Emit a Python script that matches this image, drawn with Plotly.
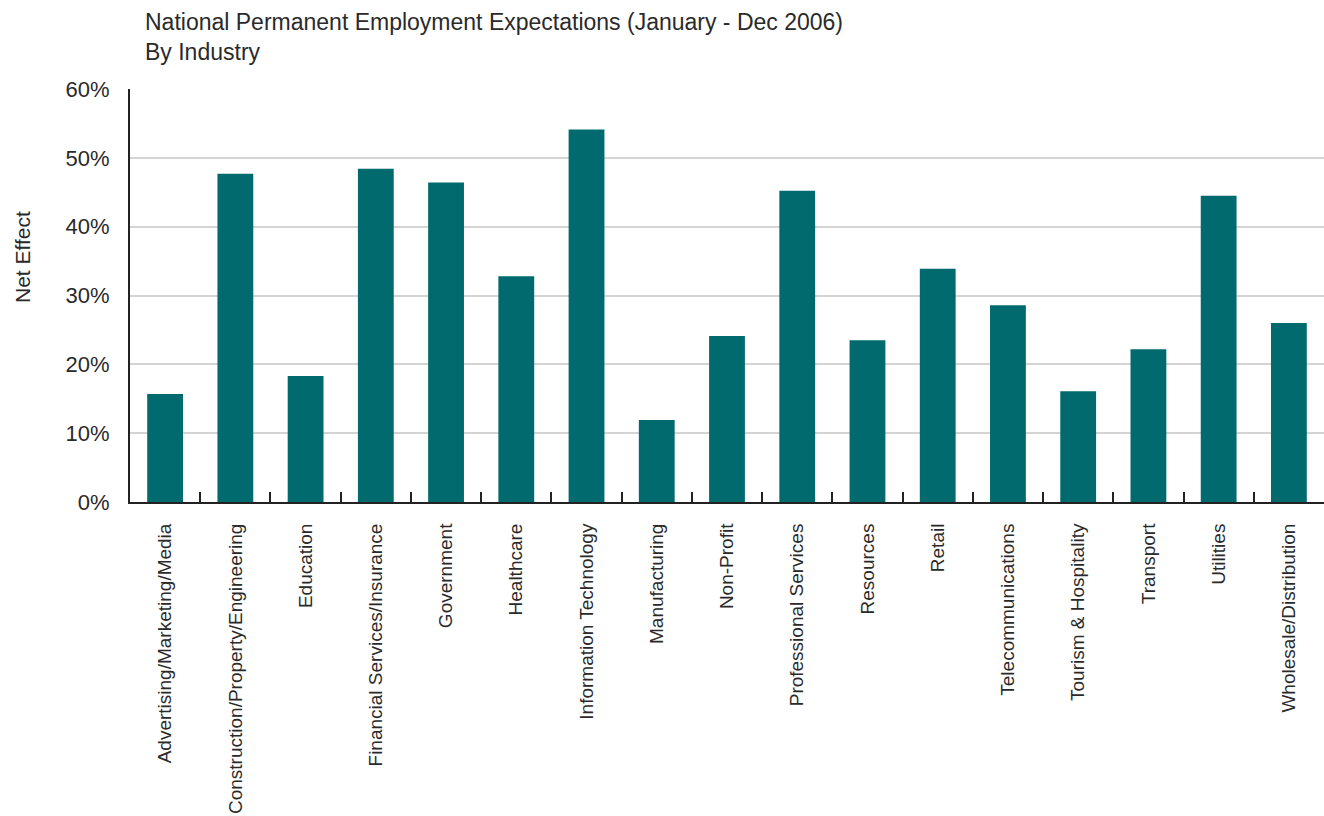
import plotly.graph_objects as go

industries = [
    "Advertising/Marketing/Media",
    "Construction/Property/Engineering",
    "Education",
    "Financial Services/Insurance",
    "Government",
    "Healthcare",
    "Information Technology",
    "Manufacturing",
    "Non-Profit",
    "Professional Services",
    "Resources",
    "Retail",
    "Telecommunications",
    "Tourism & Hospitality",
    "Transport",
    "Utilities",
    "Wholesale/Distribution",
]
net_effect = [15.7, 47.7, 18.3, 48.4, 46.4, 32.8, 54.1, 11.9, 24.1,
              45.2, 23.5, 33.9, 28.6, 16.1, 22.2, 44.5, 26.0]
y_ticks = [0, 10, 20, 30, 40, 50, 60]
y_tick_text = ["0%", "10%", "20%", "30%", "40%", "50%", "60%"]
title_lines = ["National Permanent Employment Expectations (January - Dec 2006)",
               "By Industry"]

FONT = "Liberation Sans, Arial, sans-serif"
TEXT = "#2a2a2a"
TEAL = "#016a6e"

# plot area in pixels: left 130, top 89, bottom 502, right edge of page
PLOT_W = 1324 - 130
PLOT_H = 502 - 89

fig = go.Figure(
    go.Bar(
        x=industries,
        y=net_effect,
        marker=dict(color=TEAL, line=dict(width=0)),
        hovertemplate="%{x}: %{y}%<extra></extra>",
    )
)

annotations = []
for i, line in enumerate(title_lines):
    annotations.append(dict(
        text=line,
        xref="paper", x=(143 - 130) / PLOT_W, xanchor="left",
        yref="paper", y=1 + (89 - (22 + 30 * i)) / PLOT_H, yanchor="middle",
        showarrow=False,
        font=dict(family=FONT, size=23, color=TEXT),
    ))
annotations.append(dict(
    text="Net Effect",
    textangle=-90,
    xref="paper", x=-(130 - 22) / PLOT_W, xanchor="center",
    yref="paper", y=(502 - 257) / PLOT_H, yanchor="middle",
    showarrow=False,
    font=dict(family=FONT, size=21, color=TEXT),
))

fig.update_layout(
    width=1324,
    height=816,
    margin=dict(l=130, r=0, t=89, b=314),
    paper_bgcolor="white",
    plot_bgcolor="white",
    bargap=0.49,
    showlegend=False,
    font=dict(family=FONT, color=TEXT),
    xaxis=dict(
        type="category",
        tickson="boundaries",
        ticks="inside",
        ticklen=10,
        tickwidth=2,
        tickcolor="#222222",
        showline=True,
        linecolor="#222222",
        linewidth=2,
        showgrid=False,
        layer="below traces",
        tickangle=-90,
        ticklabelstandoff=12,
        tickfont=dict(family=FONT, size=19, color=TEXT),
    ),
    yaxis=dict(
        range=[0, 60],
        tickvals=y_ticks,
        ticktext=y_tick_text,
        ticks="outside",
        ticklen=14,
        tickcolor="rgba(0,0,0,0)",
        showline=True,
        linecolor="#222222",
        linewidth=2,
        showgrid=True,
        gridcolor="#d4d4d4",
        gridwidth=2,
        zeroline=False,
        layer="below traces",
        tickfont=dict(family=FONT, size=22, color=TEXT),
    ),
    annotations=annotations,
)

fig.write_html("out.html")
